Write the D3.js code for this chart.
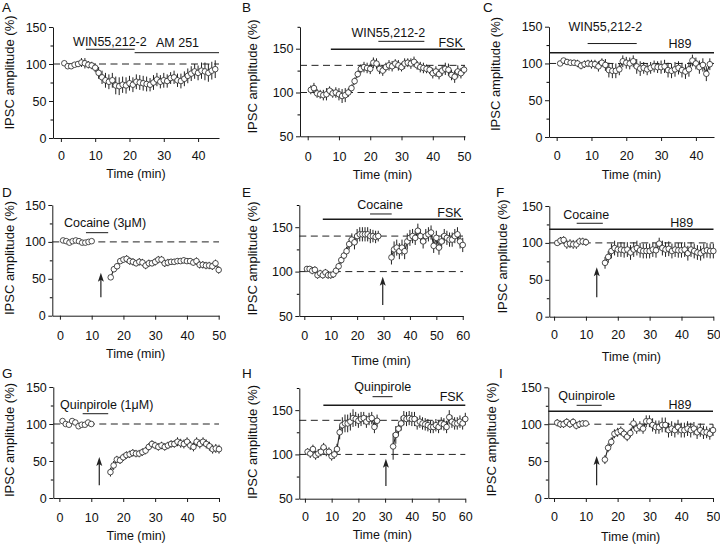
<!DOCTYPE html>
<html><head><meta charset="utf-8">
<script src="https://cdn.jsdelivr.net/npm/d3@7"></script>
<style>body{margin:0;background:#fff}svg{display:block}text{font-family:"Liberation Sans",Arial,Helvetica,sans-serif;fill:#111}</style>
</head><body>
<svg id="fig" width="720" height="546"></svg>
<script>
// ---------- DATA (per panel, one point per minute; start = first minute) ----------
const A_start = 1;
const A_values = [101,97,97,99,100,102,101,99,98,95,88,82,78,76,78,71,70,72,71,74,72,76,75,74,73,72,75,79,76,78,77,81,82,78,77,80,84,87,90,88,91,90,88,91,93];
const A_errors = [2,3,2,3,4,6,7,5,5,6,8,9,10,10,10,12,12,11,11,10,10,10,10,10,10,9,10,9,9,10,9,8,9,9,10,10,10,10,10,10,11,12,12,12,12];

const B_start = 1;
const B_values = [103,105,99,98,97,98,102,99,100,98,96,97,100,105,113,121,127,129,128,127,134,133,127,125,129,131,130,133,131,129,133,134,133,135,131,129,128,127,126,122,124,121,125,127,126,120,118,124,122,126];
const B_errors = [5,6,5,5,6,7,5,5,6,7,8,8,5,4,4,4,5,6,6,6,6,6,6,6,5,6,6,5,6,5,6,5,6,6,5,6,6,5,5,6,6,6,6,7,7,6,7,7,6,5];

const C_start = 1;
const C_values = [100,104,102,101,101,100,97,99,100,99,99,96,101,98,91,90,90,92,103,101,100,103,96,93,94,92,94,96,95,95,96,91,90,92,94,91,89,92,104,100,95,98,86,99];
const C_errors = [3,3,4,4,4,5,5,5,5,6,6,7,6,8,10,10,10,8,8,8,8,8,10,10,8,8,8,8,8,9,9,10,10,10,9,10,10,10,8,8,9,9,10,8];

const D_baseStart = 1;
const D_baseValues = [102,101,99,101,102,101,99,99,100,101];
const D_baseErrors = [1,1,1,1,1,1,1,1,1,1];
const D_postStart = 16;
const D_postValues = [52,63,67,74,76,77,74,73,71,73,72,68,71,71,73,76,76,71,72,73,73,74,74,75,74,74,72,74,69,69,68,68,67,71,62];
const D_postErrors = [3,4,4,4,4,5,5,5,4,5,5,5,5,4,5,5,5,5,5,4,4,4,4,4,4,4,4,5,5,5,5,5,5,5,5];

const E_firstStart = 1;
const E_firstValues = [103,103,101,102,96,98,96,99,96,96,97,101,106,113,118,123,131,136,133,140,142,142,142,142,140,140,139,140];
const E_firstErrors = [3,3,4,4,4,4,4,4,4,4,4,4,4,4,4,5,6,7,8,8,8,8,8,8,8,7,7,6];
const E_secondStart = 33;
const E_secondValues = [116,125,127,123,127,123,134,138,140,138,146,140,134,140,142,144,129,138,127,134,140,138,136,136,140,142,134,130];
const E_secondErrors = [8,9,9,9,9,9,9,9,8,8,8,8,8,8,8,8,8,8,8,8,8,8,8,8,8,8,8,8];

const F_baseStart = 1;
const F_baseValues = [100,103,104,98,99,98,98,102,102,101];
const F_baseErrors = [4,5,5,6,6,6,6,5,5,5];
const F_postStart = 16;
const F_postValues = [73,81,89,93,91,91,90,91,87,91,93,90,89,89,89,91,90,99,93,91,92,89,91,90,90,91,86,91,89,87,86,89,90,89,89];
const F_postErrors = [8,8,10,10,10,10,10,10,10,10,10,10,10,10,10,10,10,8,10,10,10,10,10,10,10,10,10,10,10,10,10,10,10,10,10];

const G_baseStart = 1;
const G_baseValues = [104,100,99,104,102,97,99,99,102,100];
const G_baseErrors = [2,2,2,2,2,2,2,2,2,2];
const G_postStart = 16;
const G_postValues = [35,44,52,51,55,58,59,61,60,60,62,64,69,73,71,69,71,69,71,73,73,76,74,73,76,71,69,76,73,76,73,70,66,67,66];
const G_postErrors = [6,6,5,5,5,5,5,5,5,5,5,5,5,5,5,5,5,5,5,5,5,6,6,6,6,6,6,6,6,6,6,6,6,6,6];

const H_firstStart = 1;
const H_firstValues = [103,101,106,99,101,103,108,103,103,98,100,106,125,133,135,135,137,141,140,138,140,141,137,140,141,131,138];
const H_firstErrors = [4,5,5,5,5,5,5,5,5,5,5,6,8,9,10,10,10,10,8,8,8,7,7,7,7,7,7];
const H_secondStart = 33;
const H_secondValues = [109,122,129,135,141,140,141,140,140,135,137,135,134,133,131,131,133,131,135,134,131,142,137,135,135,137,135,140];
const H_secondErrors = [15,10,8,8,8,8,8,8,8,7,7,7,7,7,7,7,7,7,7,7,7,8,7,7,7,7,7,7];

const I_baseStart = 1;
const I_baseValues = [102,100,100,103,100,103,98,100,101,101];
const I_baseErrors = [5,5,5,5,5,5,5,5,4,4];
const I_postStart = 16;
const I_postValues = [52,68,76,87,89,91,87,83,88,101,94,97,94,104,104,99,96,96,99,99,92,94,92,96,92,92,94,92,94,89,92,89,89,87,92];
const I_postErrors = [6,6,6,6,6,6,6,6,6,7,7,7,7,8,8,9,9,9,10,10,10,10,10,10,10,10,10,10,9,9,9,9,8,8,8];

// tick labels
const xTicks45 = [0,10,20,30,40];
const xTicks50 = [0,10,20,30,40,50];
const xTicks60 = [0,10,20,30,40,50,60];
const yMajor0 = [0,50,100,150];
const yMinor0 = [25,75,125];
const yMajor50 = [50,100,150];
const yMinor50 = [75,125,175];

const yTitle = "IPSC amplitude (%)";
const xTitle = "Time (min)";

// ---------- LAYOUT ----------
const panels = [
 {letter:"A", lx:2, ly:12, left:53, right:219, xDom:[-2.3,46.1], top:27, bottom:138, yDom:[0,150],
  xTicks:xTicks45, yMajor:yMajor0, yMinor:yMinor0, tickY:155.8, titleY:174, ytx:9, yty:72.5,
  segs:[[A_start,A_values,A_errors]], refs:[100],
  bars:[{t0:7.3,t1:21.5,v:119.9,w:1},{t0:21.5,t1:46.1,v:115.3,w:1}],
  texts:[{s:"WIN55,212-2",t:14.3,v:124.3,a:"middle"},{s:"AM 251",t:34,v:123.4,a:"middle"}], arrows:[]},
 {letter:"B", lx:242, ly:12, left:300, right:465, xDom:[-2.46,50.3], top:26.8, bottom:136.3, yDom:[50,175],
  xTicks:xTicks50, yMajor:yMajor50, yMinor:yMinor50, tickY:156.7, titleY:175, ytx:252, yty:76.5,
  segs:[[B_start,B_values,B_errors]], refs:[100,131],
  bars:[{t0:22.6,t1:37.3,v:158.4,w:1},{t0:7.4,t1:50.3,v:149.3,w:1.5}],
  texts:[{s:"WIN55,212-2",t:25.8,v:163.7,a:"middle"},{s:"FSK",t:49.6,v:152.3,a:"end"}], arrows:[]},
 {letter:"C", lx:483, ly:12, left:549, right:714, xDom:[-2.2,45.2], top:26.7, bottom:137, yDom:[0,150],
  xTicks:xTicks45, yMajor:yMajor0, yMinor:yMinor0, tickY:156, titleY:175, ytx:495, yty:74,
  segs:[[C_start,C_values,C_errors]], refs:[100],
  bars:[{t0:8.9,t1:23,v:127.1,w:1},{t0:-2.2,t1:45.2,v:114.6,w:1.5}],
  texts:[{s:"WIN55,212-2",t:14,v:144.6,a:"middle"},{s:"H89",t:35.4,v:120.6,a:"middle"}], arrows:[]},
 {letter:"D", lx:2, ly:197, left:52.3, right:219, xDom:[-2.4,50.1], top:205, bottom:315.7, yDom:[0,150],
  xTicks:xTicks50, yMajor:yMajor0, yMinor:yMinor0, tickY:335.7, titleY:354, ytx:9, yty:258,
  segs:[[D_baseStart,D_baseValues,D_baseErrors],[D_postStart,D_postValues,D_postErrors]], refs:[100],
  bars:[{t0:8.2,t1:15.2,v:112.5,w:1}],
  texts:[{s:"Cocaine (3\u03bcM)",t:1.26,v:120.6,a:"start"}], arrows:[{t:12.9,v0:24.9,v1:58.3}]},
 {letter:"E", lx:242, ly:197, left:299.3, right:463, xDom:[-1.9,60.1], top:205, bottom:316, yDom:[50,175],
  xTicks:xTicks60, yMajor:yMajor50, yMinor:yMinor50, tickY:336, titleY:361, ytx:252, yty:258.5,
  segs:[[E_firstStart,E_firstValues,E_firstErrors],[E_secondStart,E_secondValues,E_secondErrors]], refs:[100,140],
  bars:[{t0:24.9,t1:33.1,v:164.9,w:1},{t0:7,t1:60.1,v:158.9,w:1.5}],
  texts:[{s:"Cocaine",t:28.7,v:170.2,a:"middle"},{s:"FSK",t:59.6,v:161.3,a:"end"}], arrows:[{t:29.7,v0:62.4,v1:94.3}]},
 {letter:"F", lx:496, ly:197, left:549.3, right:713.5, xDom:[-1.5,50.05], top:206, bottom:316.7, yDom:[0,150],
  xTicks:xTicks50, yMajor:yMajor0, yMinor:yMinor0, tickY:335, titleY:356.7, ytx:502, yty:256.5,
  segs:[[F_baseStart,F_baseValues,F_baseErrors],[F_postStart,F_postValues,F_postErrors]], refs:[100],
  bars:[{t0:7.1,t1:15.3,v:126.6,w:1},{t0:-1.5,t1:50.05,v:118.4,w:1.5}],
  texts:[{s:"Cocaine",t:10.1,v:132,a:"middle"},{s:"H89",t:40.1,v:122,a:"middle"}], arrows:[{t:13.4,v0:26.3,v1:66.9}]},
 {letter:"G", lx:2, ly:378, left:53.3, right:219, xDom:[-1.9,50], top:387, bottom:498, yDom:[0,150],
  xTicks:xTicks50, yMajor:yMajor0, yMinor:yMinor0, tickY:517.7, titleY:536, ytx:9, yty:440,
  segs:[[G_baseStart,G_baseValues,G_baseErrors],[G_postStart,G_postValues,G_postErrors]], refs:[100],
  bars:[{t0:7.3,t1:15.3,v:113.9,w:1}],
  texts:[{s:"Quinpirole (1\u03bcM)",t:0.2,v:120.7,a:"start"}], arrows:[{t:12.5,v0:17.1,v1:55.4}]},
 {letter:"H", lx:242, ly:378, left:299.3, right:465.3, xDom:[-2.1,60], top:388, bottom:498.7, yDom:[50,175],
  xTicks:xTicks60, yMajor:yMajor50, yMinor:yMinor50, tickY:517, titleY:535, ytx:252, yty:442,
  segs:[[H_firstStart,H_firstValues,H_firstErrors],[H_secondStart,H_secondValues,H_secondErrors]], refs:[100,138.5],
  bars:[{t0:25.3,t1:32.8,v:165.2,w:1},{t0:6.9,t1:60,v:155.5,w:1.5}],
  texts:[{s:"Quinpirole",t:29.1,v:171.3,a:"middle"},{s:"FSK",t:59.5,v:160,a:"end"}], arrows:[{t:30.3,v0:64.3,v1:95.2}]},
 {letter:"I", lx:499, ly:378, left:548.3, right:713, xDom:[-1.8,50], top:387.3, bottom:498, yDom:[0,150],
  xTicks:xTicks50, yMajor:yMajor0, yMinor:yMinor0, tickY:517, titleY:537, ytx:491, yty:439.5,
  segs:[[I_baseStart,I_baseValues,I_baseErrors],[I_postStart,I_postValues,I_postErrors]], refs:[100],
  bars:[{t0:7.1,t1:15,v:125.6,w:1},{t0:-1.8,t1:50,v:117.5,w:1.5}],
  texts:[{s:"Quinpirole",t:10.3,v:132.4,a:"middle"},{s:"H89",t:39.6,v:121,a:"middle"}], arrows:[{t:13.4,v0:17.2,v1:56.9}]}
];

const svg = d3.select("#fig");
svg.append("rect").attr("width",720).attr("height",546).attr("fill","#fff");
const INK = "#1a1a1a";

panels.forEach(p => {
  const x = d3.scaleLinear().domain(p.xDom).range([p.left, p.right]);
  const y = d3.scaleLinear().domain(p.yDom).range([p.bottom, p.top]);
  const g = svg.append("g");

  // reference dashed lines
  p.refs.forEach(v => {
    g.append("line").attr("x1", p.left).attr("x2", p.right).attr("y1", y(v)).attr("y2", y(v))
      .attr("stroke", "#222").attr("stroke-width", 1).attr("stroke-dasharray", "7,4.5");
  });

  // drug bars
  p.bars.forEach(b => {
    g.append("line").attr("x1", x(b.t0)).attr("x2", x(b.t1)).attr("y1", y(b.v)).attr("y2", y(b.v))
      .attr("stroke", INK).attr("stroke-width", b.w);
  });

  // axes
  const yAx = g.append("g").attr("transform", `translate(${p.left},0)`)
    .call(d3.axisLeft(y).tickValues(p.yMajor).tickSize(4).tickSizeOuter(0).tickPadding(2.5).tickFormat(d3.format("d")));
  g.append("g").attr("transform", `translate(${p.left},0)`)
    .call(d3.axisLeft(y).tickValues(p.yMinor).tickSize(2.5).tickSizeOuter(0).tickFormat(""))
    .call(s => s.select(".domain").remove());
  const xAx = g.append("g").attr("transform", `translate(0,${p.bottom})`)
    .call(d3.axisBottom(x).tickValues(p.xTicks).tickSize(4).tickSizeOuter(0).tickPadding(p.tickY - p.bottom - 4 - 4.6).tickFormat(d3.format("d")));
  [yAx, xAx].forEach(a => {
    a.selectAll("path,line").attr("stroke", INK).attr("stroke-width", 1);
    a.selectAll("text").attr("font-size", 12.5).attr("fill", INK)
      .attr("font-family", '"Liberation Sans",Arial,sans-serif');
  });

  // series
  p.segs.forEach(([start, vals, errs]) => {
    const pts = vals.map((v, i) => ({t: start + i, v: v, e: errs[i]}));
    g.append("g").selectAll("line").data(pts).join("line")
      .attr("x1", d => x(d.t)).attr("x2", d => x(d.t))
      .attr("y1", d => y(d.v - d.e)).attr("y2", d => y(d.v + d.e))
      .attr("stroke", "#222").attr("stroke-width", 1);
    g.append("path").datum(pts)
      .attr("d", d3.line().x(d => x(d.t)).y(d => y(d.v)))
      .attr("fill", "none").attr("stroke", "#222").attr("stroke-width", 1.1);
    g.append("g").selectAll("circle").data(pts).join("circle")
      .attr("cx", d => x(d.t)).attr("cy", d => y(d.v)).attr("r", 2.8)
      .attr("fill", "#fff").attr("stroke", "#222").attr("stroke-width", 0.8);
  });

  // arrows
  p.arrows.forEach(a => {
    const ax = x(a.t), yb = y(a.v0), yt = y(a.v1);
    g.append("line").attr("x1", ax).attr("x2", ax).attr("y1", yb).attr("y2", yt + 6)
      .attr("stroke", "#222").attr("stroke-width", 1.2);
    g.append("path").attr("d", `M${ax},${yt} L${ax - 3},${yt + 9} L${ax},${yt + 7} L${ax + 3},${yt + 9} Z`)
      .attr("fill", "#222");
  });

  // annotation texts
  p.texts.forEach(tx => {
    g.append("text").attr("x", x(tx.t)).attr("y", y(tx.v)).attr("text-anchor", tx.a)
      .attr("font-size", 12.5).text(tx.s);
  });

  // axis titles
  g.append("text").attr("x", (p.left + p.right) / 2).attr("y", p.titleY)
    .attr("text-anchor", "middle").attr("dominant-baseline", "central").attr("font-size", 12.5).text(xTitle);
  g.append("text").attr("transform", `translate(${p.ytx},${p.yty}) rotate(-90)`)
    .attr("text-anchor", "middle").attr("dominant-baseline", "central").attr("font-size", 13).text(yTitle);

  // panel letter
  g.append("text").attr("x", p.lx).attr("y", p.ly).attr("font-size", 13.5).text(p.letter);
});
</script>
</body></html>
